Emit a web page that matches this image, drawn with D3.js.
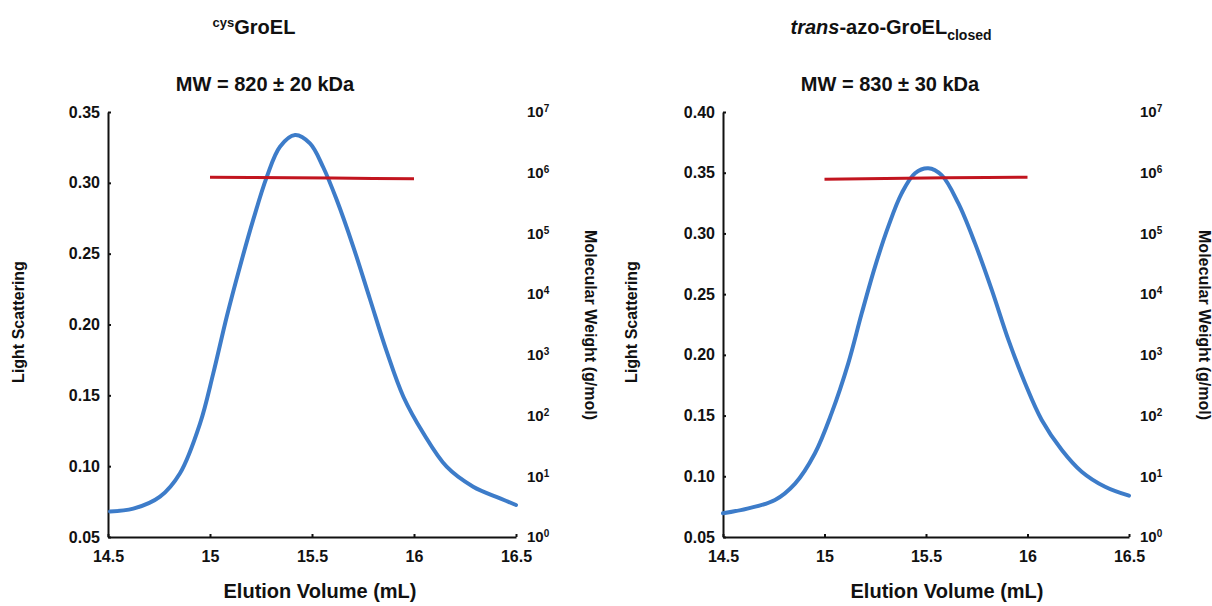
<!DOCTYPE html>
<html>
<head>
<meta charset="utf-8">
<script src="https://cdn.jsdelivr.net/npm/d3@7"></script>
<style>
    body { margin: 0; background: #fff; }
    svg { font-family: "Liberation Sans", Arial, Helvetica, sans-serif; font-weight: bold; }
</style>
</head>
<body>
<svg id="chart"></svg>
<script>
// cysGroEL: light scattering trace over elution volume (mL)
const elutionA = [14.51, 14.624, 14.755, 14.853, 14.951, 15.016, 15.082, 15.147, 15.212, 15.278, 15.343, 15.417,
                  15.49, 15.555, 15.621, 15.702, 15.784, 15.866, 15.948, 16.046, 16.16, 16.29, 16.422, 16.50];
const scatterA = [0.068, 0.070, 0.0785, 0.095, 0.130, 0.1655, 0.2055, 0.241, 0.274, 0.304, 0.3255, 0.3337,
                  0.3278, 0.311, 0.288, 0.255, 0.218, 0.181, 0.149, 0.1232, 0.0996, 0.0855, 0.0773, 0.0726];
// cysGroEL: molecular weight (g/mol) across the peak
const mwVolA = [15.0, 15.2, 15.4, 15.6, 15.8, 16.0];
const mwA = [8.45e5, 8.35e5, 8.25e5, 8.15e5, 8.05e5, 7.95e5];

// trans-azo-GroEL closed
const elutionB = [14.50, 14.625, 14.756, 14.855, 14.953, 15.035, 15.117, 15.183, 15.249, 15.314, 15.38, 15.446,
                  15.511, 15.577, 15.659, 15.741, 15.824, 15.906, 15.988, 16.07, 16.169, 16.267, 16.382, 16.50];
const scatterB = [0.0695, 0.0736, 0.0805, 0.094, 0.119, 0.152, 0.193, 0.234, 0.2727, 0.3056, 0.333, 0.3496,
                  0.3537, 0.348, 0.3249, 0.292, 0.2535, 0.2123, 0.1766, 0.1464, 0.1217, 0.1038, 0.0914, 0.0840];
const mwVolB = [15.0, 15.2, 15.4, 15.6, 15.8, 16.0];
const mwB = [7.8e5, 7.95e5, 8.1e5, 8.25e5, 8.35e5, 8.4e5];

const xTicks = [14.5, 15, 15.5, 16, 16.5];
const yTicksA = [0.05, 0.10, 0.15, 0.20, 0.25, 0.30, 0.35];
const yTicksB = [0.05, 0.10, 0.15, 0.20, 0.25, 0.30, 0.35, 0.40];
const mwTicks = [1, 10, 100, 1e3, 1e4, 1e5, 1e6, 1e7];

const BLUE = "#3d7cc9";
const RED = "#c2151f";

class SecPanel {
    constructor(svg, opts) {
        this.svg = svg;
        this.o = opts;
    }

    draw() {
        const o = this.o;
        const g = this.svg.append("g");

        const x = d3.scaleLinear().domain([14.5, 16.5]).range([o.left, o.right]);
        const y = d3.scaleLinear().domain(o.yDomain).range([537, 112]);
        const mw = d3.scaleLog().domain([1, 1e7]).range([537, 112]);

        // left axis, ticks point inward
        const yAxis = g.append("g")
            .attr("transform", `translate(${o.left},0)`)
            .call(d3.axisLeft(y).tickValues(o.yTicks).tickFormat(d3.format(".2f"))
                .tickSizeInner(-3).tickSizeOuter(0).tickPadding(8));
        // bottom axis
        const xAxis = g.append("g")
            .attr("transform", `translate(0,537)`)
            .call(d3.axisBottom(x).tickValues(xTicks).tickFormat(d3.format(""))
                .tickSizeInner(-3).tickSizeOuter(0).tickPadding(14));
        [yAxis, xAxis].forEach(a => {
            a.selectAll("path, line").attr("stroke", "#111").attr("stroke-width", 2);
            a.selectAll("text").attr("font-size", 16).attr("fill", "#111")
                .attr("font-family", null);
        });

        // right log axis: labels only
        const mwAxis = g.append("g")
            .attr("transform", `translate(${o.right},0)`)
            .call(d3.axisRight(mw).tickValues(mwTicks).tickSize(0).tickPadding(11).tickFormat(() => ""));
        mwAxis.select(".domain").remove();
        mwAxis.selectAll(".tick text")
            .attr("font-size", 15).attr("fill", "#111").attr("font-family", null)
            .each(function(d) {
                const t = d3.select(this);
                t.append("tspan").text("10");
                t.append("tspan").attr("dy", "-0.5em").attr("font-size", 10)
                    .text(Math.round(Math.log10(d)));
            });

        const lsLine = d3.line()
            .x((d, i) => x(o.vol[i]))
            .y(d => y(d))
            .curve(d3.curveCatmullRom);
        g.append("path")
            .datum(o.ls)
            .attr("fill", "none")
            .attr("stroke", BLUE)
            .attr("stroke-width", 4)
            .attr("stroke-linecap", "round")
            .attr("d", lsLine);

        const mwLine = d3.line()
            .x((d, i) => x(o.mwVol[i]))
            .y(d => mw(d));
        g.append("path")
            .datum(o.mw)
            .attr("fill", "none")
            .attr("stroke", RED)
            .attr("stroke-width", 3)
            .attr("d", mwLine);

        // titles
        const title = g.append("text")
            .attr("x", o.titleX).attr("y", 34)
            .attr("text-anchor", "middle")
            .attr("font-size", 20).attr("fill", "#111");
        o.title(title);

        g.append("text")
            .attr("x", o.mwTextX).attr("y", 91)
            .attr("text-anchor", "middle")
            .attr("font-size", 20).attr("fill", "#111")
            .text(o.mwText);

        g.append("text")
            .attr("x", o.xTitleX).attr("y", 598)
            .attr("text-anchor", "middle")
            .attr("font-size", 20).attr("fill", "#111")
            .text("Elution Volume (mL)");

        g.append("text")
            .attr("transform", `translate(${o.lsTitleX},322) rotate(-90)`)
            .attr("text-anchor", "middle")
            .attr("font-size", 16).attr("fill", "#111")
            .text("Light Scattering");

        g.append("text")
            .attr("transform", `translate(${o.mwTitleX},325) rotate(90)`)
            .attr("text-anchor", "middle")
            .attr("font-size", 16).attr("fill", "#111")
            .text("Molecular Weight (g/mol)");
    }
}

const svg = d3.select("#chart").attr("width", 1212).attr("height", 606);

new SecPanel(svg, {
    left: 108, right: 516,
    yDomain: [0.05, 0.35], yTicks: yTicksA,
    vol: elutionA, ls: scatterA, mwVol: mwVolA, mw: mwA,
    titleX: 254, mwTextX: 265, xTitleX: 320, lsTitleX: 24, mwTitleX: 585,
    mwText: "MW = 820 ± 20 kDa",
    title: t => {
        t.append("tspan").attr("font-size", 13).attr("dy", -7).text("cys");
        t.append("tspan").attr("dy", 7).text("GroEL");
    }
}).draw();

new SecPanel(svg, {
    left: 723, right: 1129,
    yDomain: [0.05, 0.40], yTicks: yTicksB,
    vol: elutionB, ls: scatterB, mwVol: mwVolB, mw: mwB,
    titleX: 891, mwTextX: 890, xTitleX: 947, lsTitleX: 637, mwTitleX: 1199,
    mwText: "MW = 830 ± 30 kDa",
    title: t => {
        t.append("tspan").attr("font-style", "italic").text("trans");
        t.append("tspan").text("-azo-GroEL");
        t.append("tspan").attr("font-size", 14).attr("dy", 6).text("closed");
    }
}).draw();
</script>
</body>
</html>
